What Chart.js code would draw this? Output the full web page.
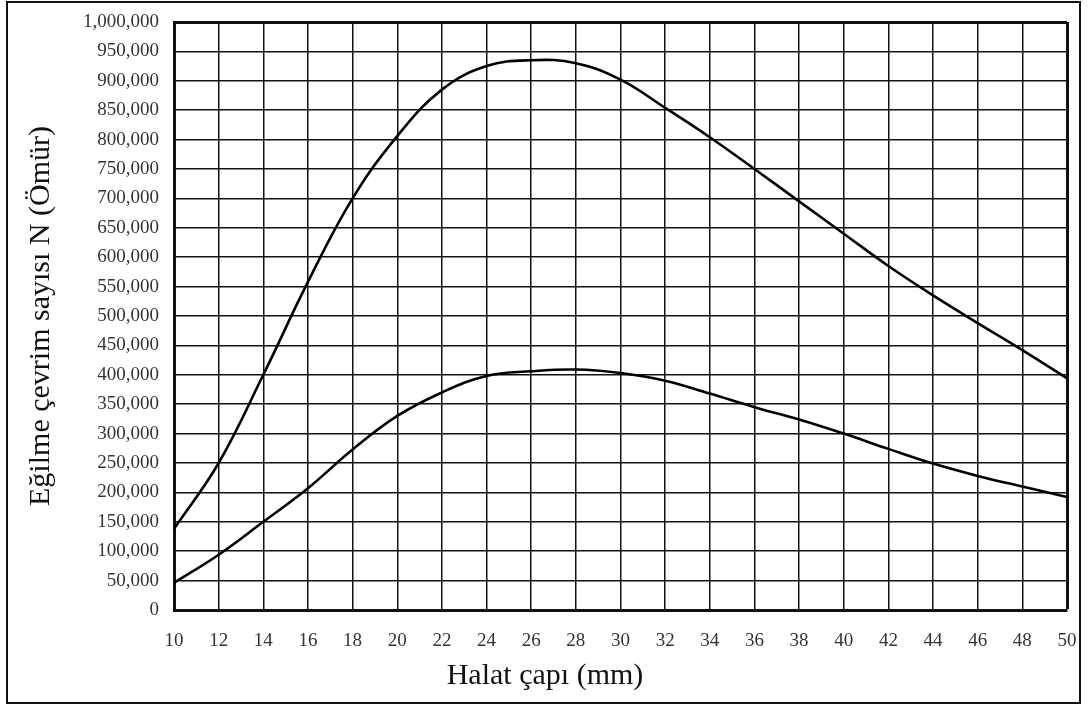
<!DOCTYPE html>
<html>
<head>
<meta charset="utf-8">
<script src="https://cdn.jsdelivr.net/npm/chart.js@4.4.1/dist/chart.umd.min.js"></script>
<style>
  html, body { margin: 0; padding: 0; background: #fff; }
  #wrap { position: relative; width: 1088px; height: 706px; }
</style>
</head>
<body>
<div id="wrap"><canvas id="chart"></canvas></div>
<script>
// halat çapı (mm)
const diameters = [10, 12, 14, 16, 18, 20, 22, 24, 26, 28, 30, 32, 34, 36, 38, 40, 42, 44, 46, 48, 50];
// egilme cevrim sayisi
const upperLife = [138000, 250000, 400000, 558000, 700000, 806000, 885000, 925000, 935000, 930000, 902000,
                   854000, 804000, 750000, 695000, 640000, 585000, 535000, 488000, 442000, 394000];
const lowerLife = [46000, 94000, 150000, 207000, 273000, 330000, 370000, 398000, 406000, 409000, 403000,
                   390000, 368000, 345000, 324000, 300000, 274000, 249000, 228000, 210000, 192000];
const yTickValues = [0, 50000, 100000, 150000, 200000, 250000, 300000, 350000, 400000, 450000, 500000,
                     550000, 600000, 650000, 700000, 750000, 800000, 850000, 900000, 950000, 1000000];

const xTitle = "Halat çapı (mm)";
const yTitle = "Eğilme çevrim sayısı N (Ömür)";

const serif = "'Liberation Serif', 'Times New Roman', serif";

function toPoints(values) {
    return diameters.map((d, i) => ({ x: d, y: values[i] }));
}

//frame around the whole figure + x title
const framePlugin = {
    id: "frame",
    afterDraw(chart) {
        const ctx = chart.ctx;
        ctx.save();
        ctx.strokeStyle = "#111";
        ctx.lineWidth = 2;
        ctx.strokeRect(7, 2, 1073, 701);
        ctx.fillStyle = "#111";
        ctx.font = "30px " + serif;
        ctx.textAlign = "center";
        ctx.textBaseline = "middle";
        ctx.fillText(xTitle, 545, 676);
        ctx.restore();
    }
};

const lineStyle = {
    borderColor: "#000",
    borderWidth: 2.6,
    pointRadius: 0,
    fill: false,
    tension: 0.4
};

new Chart(document.getElementById("chart"), {
    type: "line",
    data: {
        datasets: [
            Object.assign({ label: "upper", data: toPoints(upperLife) }, lineStyle),
            Object.assign({ label: "lower", data: toPoints(lowerLife) }, lineStyle)
        ]
    },
    options: {
        responsive: true,
        maintainAspectRatio: false,
        animation: false,
        layout: { padding: { top: 22, right: 21, left: 0, bottom: 0 } },
        plugins: { legend: { display: false }, tooltip: { enabled: false } },
        scales: {
            x: {
                type: "linear",
                min: 10,
                max: 50,
                afterBuildTicks: (scale) => { scale.ticks = diameters.map(v => ({ value: v })); },
                afterFit: (scale) => {
                    scale.height = 96;
                    scale.paddingLeft = 0;
                    scale.paddingRight = 0;
                },
                ticks: { color: "#333", font: { family: serif, size: 19 }, padding: 20, maxRotation: 0 },
                grid: {
                    color: "#111",
                    lineWidth: (c) => (c.tick && c.tick.value === 50 ? 3 : 1.5),
                    drawTicks: false
                },
                border: { display: true, color: "#111", width: 3 }
            },
            y: {
                min: 0,
                max: 1000000,
                afterBuildTicks: (scale) => { scale.ticks = yTickValues.map(v => ({ value: v })); },
                afterFit: (scale) => {
                    scale.width = 174;
                    scale.paddingTop = 0;
                    scale.paddingBottom = 0;
                },
                ticks: {
                    color: "#333",
                    font: { family: serif, size: 19 },
                    padding: 15,
                    callback: (v) => v.toLocaleString("en-US")
                },
                grid: {
                    color: "#111",
                    lineWidth: (c) => (c.tick && c.tick.value === 1000000 ? 3 : 1.5),
                    drawTicks: false
                },
                border: { display: true, color: "#111", width: 3 },
                title: {
                    display: true,
                    text: yTitle,
                    color: "#111",
                    font: { family: serif, size: 30 },
                    padding: { top: 23, bottom: 0 }
                }
            }
        }
    },
    plugins: [framePlugin]
});
</script>
</body>
</html>
